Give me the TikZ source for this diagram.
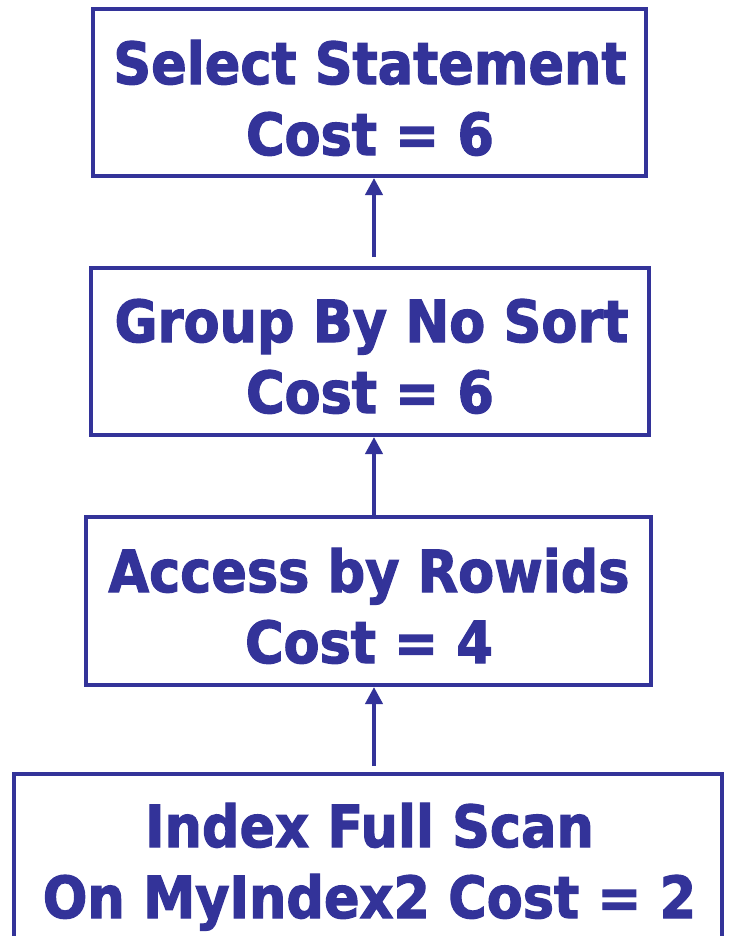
\documentclass[tikz,border=0pt]{standalone}
\usepackage{fontspec}
\usetikzlibrary{arrows.meta,calc}
\newfontfamily\boxfont[FakeStretch=0.905,FakeBold=2]{DejaVu Sans Bold}
\definecolor{planblue}{RGB}{51,51,153}
\begin{document}
\begin{tikzpicture}[x=0.75pt,y=-0.75pt,
  planbox/.style={draw=planblue,line width=3pt,rectangle,inner sep=0pt},
  plantext/.style={anchor=base,inner sep=0pt,text=planblue,
    font=\boxfont\fontsize{43.5pt}{52.5pt}\selectfont},
  planarrow/.style={draw=planblue,line width=3pt,
    -{Triangle[length=12.75pt,width=12.75pt]}}]
\useasboundingbox (0,0) rectangle (731,936);
\node[planbox,minimum width={553*0.75pt},minimum height={167*0.75pt}] (sel) at (369.5,92.5) {};
\node[planbox,minimum width={558*0.75pt},minimum height={167*0.75pt}] (grp) at (370,351.5) {};
\node[planbox,minimum width={565*0.75pt},minimum height={168*0.75pt}] (acc) at (368.5,601) {};
\node[planbox,minimum width={708*0.75pt},minimum height={180*0.75pt}] (idx) at (368,864) {};
\node[plantext] (sel1) at (370,84) {Select Statement};
\node[plantext] (sel2) at (370,155) {Cost = 6};
\node[plantext] (grp1) at (371.5,342) {Group By No Sort};
\node[plantext] (grp2) at (370,413) {Cost = 6};
\node[plantext] (acc1) at (369,592) {Access by Rowids};
\node[plantext] (acc2) at (369,663) {Cost = 4};
\node[plantext] (idx1) at (369.5,847) {Index Full Scan};
\node[plantext] (idx2) at (369.5,918) {On MyIndex2 Cost = 2};
\coordinate (ax) at (374,0);
\draw[planarrow] ($(grp.north -| ax)+(0,-9)$) -- (sel.south -| ax);
\draw[planarrow] (acc.north -| ax) -- (grp.south -| ax);
\draw[planarrow] ($(idx.north -| ax)+(0,-6)$) -- (acc.south -| ax);
\end{tikzpicture}
\end{document}
